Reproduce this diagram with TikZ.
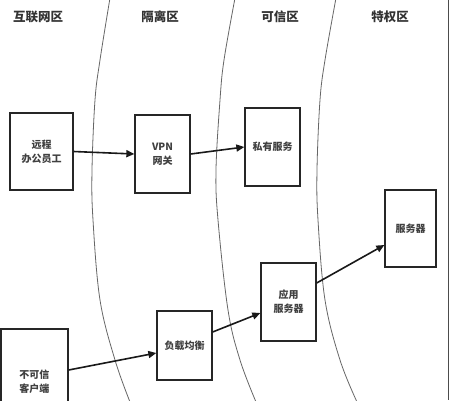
\documentclass[tikz,border=0pt]{standalone}
\usepackage{fontspec}
\newfontfamily\cjk{Noto Sans CJK SC}
\usetikzlibrary{arrows.meta,calc}
\begin{document}
\begin{tikzpicture}[x=1pt,y=-1pt,
  zone/.style={draw=black!60,line width=0.8pt},
  title/.style={font=\cjk\bfseries\fontsize{12.5}{14}\selectfont,text=black!80},
  box/.style={draw=black!85,line width=1.3pt,fill=white,inner sep=0pt,align=center,
     font=\cjk\bfseries\fontsize{10}{14}\selectfont,text=black!75},
  link/.style={draw=black!90,line width=1.6pt,-{Triangle[length=8pt,width=7pt]}}]
\useasboundingbox (0,0) rectangle (450,400);
\clip (0,0) rectangle (450,400);
\fill[white] (0,0) rectangle (450,400);
% zone borders
\draw[zone] plot[smooth,tension=0.6] coordinates {(110,-2) (100,60) (95,100) (92,170) (93,220) (100,300) (115,360) (130,402)};
\draw[zone] plot[smooth,tension=0.6] coordinates {(235,-2) (224,60) (220,100) (216,170) (218,220) (228,310) (240,360) (256,402)};
\draw[zone] plot[smooth,tension=0.6] coordinates {(336,-2) (325,60) (320,100) (317,170) (318,220) (325,300) (340,360) (357,402)};
\draw[black!70,line width=0.8pt] (448,0) -- (448,400);
% titles
\node[title] (t1) at (38,17) {互联网区};
\node[title] (t2) at (160,17) {隔离区};
\node[title] (t3) at (280,17) {可信区};
\node[title] (t4) at (390,17) {特权区};
% boxes
\node[box,minimum width=63pt,minimum height=77pt] (A) at (41.5,151.5) {远程\\办公员工};
\node[box,minimum width=55pt,minimum height=78pt] (B) at (162.5,154) {VPN\\网关};
\node[box,minimum width=55pt,minimum height=78pt] (C) at (272.5,147) {私有服务};
\node[box,minimum width=51pt,minimum height=77pt] (D) at (410.5,228.5) {服务器};
\node[box,minimum width=55pt,minimum height=78pt] (E) at (288.5,302) {应用\\服务器};
\node[box,minimum width=55pt,minimum height=69pt] (F) at (184.5,345.5) {负载均衡};
\node[box,minimum width=67pt,minimum height=100pt] (G) at (34.5,379) {\\不可信\\客户端};
% connectors
\draw[link] (A.east) -- (B.west);
\draw[link] (B.east) -- (C.west);
\draw[link] ([yshift=9pt]G.east) -- ([yshift=-7.5pt]F.west);
\draw[link] ([yshift=13.5pt]F.east) -- ([yshift=-11pt]E.west);
\draw[link] ([yshift=19pt]E.east) -- ([yshift=-16.5pt]D.west);
\end{tikzpicture}
\end{document}
